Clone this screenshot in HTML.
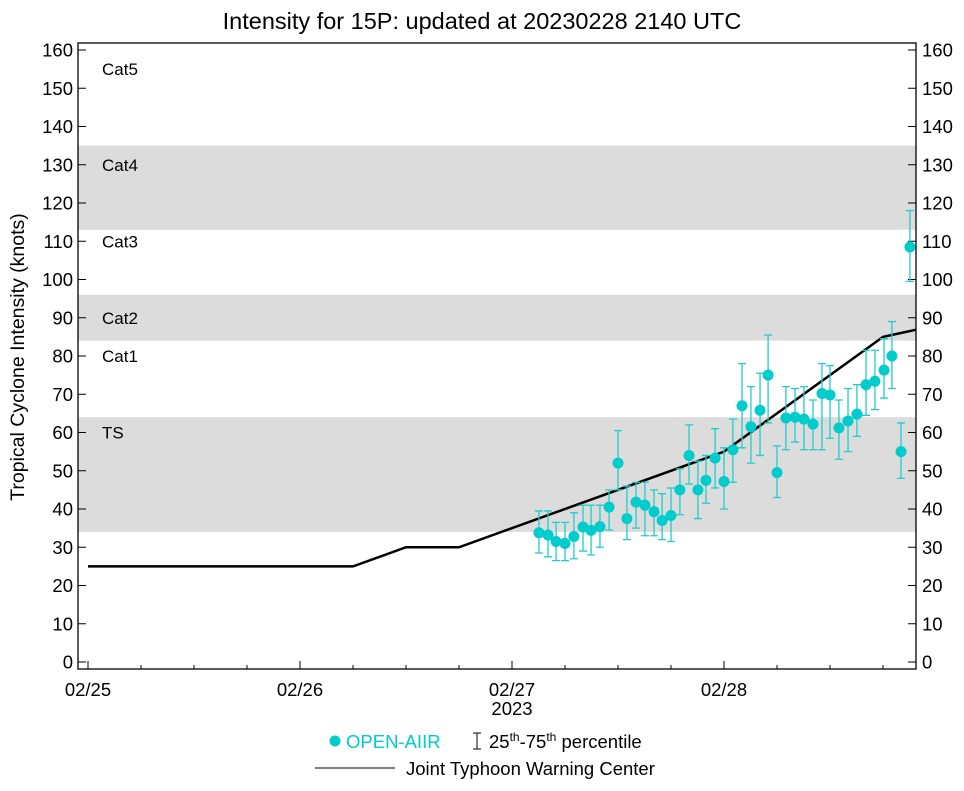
<!DOCTYPE html>
<html><head><meta charset="utf-8"><style>
body{margin:0;background:#fff}
svg text{font-family:"Liberation Sans",sans-serif;fill:#000}
</style></head><body>
<svg id="c" width="964" height="786" xmlns="http://www.w3.org/2000/svg">
<text x="482" y="29" font-size="23.5" text-anchor="middle">Intensity for 15P: updated at 20230228 2140 UTC</text>
<g id="plot"></g>
<text transform="translate(24,357) rotate(-90)" font-size="19.5" text-anchor="middle">Tropical Cyclone Intensity (knots)</text>
<g>
<circle cx="335" cy="741" r="5.5" fill="#00cccc"/>
<text x="346" y="748" font-size="18.5" style="fill:#00cccc">OPEN-AIIR</text>
<path d="M473 733h8M477 733v16M473 749h8" stroke="#000" stroke-width="1"/>
<text x="489" y="748" font-size="18.5">25<tspan font-size="12" dy="-7">th</tspan><tspan dy="7">-75</tspan><tspan font-size="12" dy="-7">th</tspan><tspan dy="7"> percentile</tspan></text>
<line x1="315" y1="768" x2="395" y2="768" stroke="#000" stroke-width="1"/>
<text x="406" y="775" font-size="18.5">Joint Typhoon Warning Center</text>
</g>
</svg>
<script>
const yTicks=[0,10,20,30,40,50,60,70,80,90,100,110,120,130,140,150,160];
const xTickDays=[0,1,2,3];
const xTickLabels=["02/25","02/26","02/27","02/28"];
const bands=[[34,64],[84,96],[113,135]];
const catLabels=["TS","Cat1","Cat2","Cat3","Cat4","Cat5"];
const catValues=[60,80,90,110,130,155];
// days since 02/25 00Z
const obsDays=[2.127,2.17,2.208,2.25,2.292,2.335,2.373,2.415,2.458,2.5,2.542,2.585,2.627,2.67,2.708,2.75,2.792,2.835,2.877,2.915,2.958,3.0,3.042,3.085,3.127,3.17,3.208,3.25,3.292,3.335,3.377,3.42,3.462,3.5,3.542,3.585,3.627,3.67,3.712,3.755,3.792,3.835,3.877];
const obsValues=[33.8,33.2,31.5,31,32.8,35.3,34.4,35.4,40.5,52,37.5,41.8,41,39.3,37,38.3,45,54,45,47.5,53.3,47.2,55.5,67,61.5,65.8,75,49.5,63.8,64,63.5,62.2,70.2,69.8,61.2,63,64.8,72.5,73.4,76.3,80,55,108.5];
const obsLow=[28.5,27.5,26.5,26.5,27,29,28,30,34.5,45,32,35,33,33,32,31.5,38.5,46.5,37.5,41.5,45.5,40,47,56,52,54,62.5,43,55.5,57.5,55.5,55.5,55.5,58.5,53,55,59,64.5,66,69,71.5,48,99.5];
const obsHigh=[39.5,39.5,36.5,36.5,39,41,41,41,45,60.5,46,47,47,45,44,45.5,50.5,62,52.5,54,61,56,63.5,78,72,75.5,85.5,56.5,72,71.5,72,68.5,78,77.5,68.5,71.5,72.5,81.5,81.5,84.5,89,62.5,118];
const jtwcDays=[0,1.25,1.5,1.75,3.0,3.75,4.0];
const jtwcValues=[25,25,30,30,55,85,88];

const X0=88,PXD=212,Y0=662,PXK=3.825,L=78,R=916,T=43,B=669;
const xs=d=>X0+d*PXD, ys=v=>Y0-v*PXK;
const NS="http://www.w3.org/2000/svg";
const g=document.getElementById('plot');
function mk(t,a,p){const e=document.createElementNS(NS,t);for(const k in a)e.setAttribute(k,a[k]);(p||g).appendChild(e);return e;}
const defs=mk('defs',{});const cp=mk('clipPath',{id:'clip'},defs);mk('rect',{x:L,y:T,width:R-L,height:B-T},cp);
bands.forEach(b=>{const r=mk('rect',{x:L,y:ys(b[1]),width:R-L,height:ys(b[0])-ys(b[1]),fill:'#dcdcdc'});

});
catLabels.forEach((c,i)=>{const t=mk('text',{x:102,y:ys(catValues[i])+6,'font-size':17});t.textContent=c;

});
yTicks.forEach(v=>{const y=ys(v);
mk('line',{x1:L,y1:y,x2:L+8,y2:y,stroke:'#000'});mk('line',{x1:R-8,y1:y,x2:R,y2:y,stroke:'#000'});
const a=mk('text',{x:73,y:y+6.5,'font-size':18.5,'text-anchor':'end'});a.textContent=v;


const b=mk('text',{x:922,y:y+6.5,'font-size':18.5});b.textContent=v;

});
xTickDays.forEach((d,i)=>{const x=xs(d);mk('line',{x1:x,y1:B,x2:x,y2:B-8,stroke:'#000'});
for(let h=1;h<4;h++){const xx=xs(d+h/4);if(xx<R)mk('line',{x1:xx,y1:B,x2:xx,y2:B-4,stroke:'#000'});}
const t=mk('text',{x:x,y:696,'font-size':18.5,'text-anchor':'middle'});t.textContent=xTickLabels[i];

});
const yr=mk('text',{x:xs(2),y:715,'font-size':18.5,'text-anchor':'middle'});yr.textContent='2023';


const pts=jtwcDays.map((d,i)=>xs(d)+','+ys(jtwcValues[i])).join(' ');
const jl=mk('polyline',{points:pts,fill:'none',stroke:'#000','stroke-width':2.5,'clip-path':'url(#clip)'});


obsDays.forEach((d,i)=>{const x=xs(d);
const e=mk('path',{d:`M${x-4} ${ys(obsHigh[i])}h8M${x} ${ys(obsHigh[i])}V${ys(obsLow[i])}M${x-4} ${ys(obsLow[i])}h8`,stroke:'#22cccc','stroke-width':1.3,fill:'none'});

});
obsDays.forEach((d,i)=>{const c=mk('circle',{cx:xs(d),cy:ys(obsValues[i]),r:5.5,fill:'#00cccc'});

});
const f=mk('rect',{x:L,y:T,width:R-L,height:B-T,fill:'none',stroke:'#000','stroke-width':1.3});


</script>
</body></html>
